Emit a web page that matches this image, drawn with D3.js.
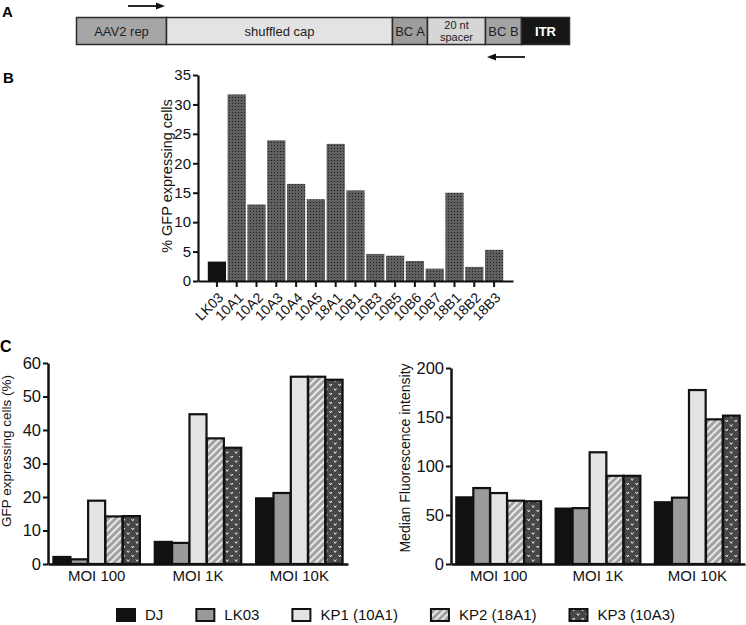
<!DOCTYPE html>
<html>
<head>
<meta charset="utf-8">
<script src="https://cdn.jsdelivr.net/npm/d3@7"></script>
<style>
  html, body { margin: 0; padding: 0; background: #fff; }
  svg { display: block; font-family: "Liberation Sans", Arial, sans-serif; }
</style>
</head>
<body>
<svg id="chart" width="746" height="625"></svg>
<script>
// ---------- DATA ----------
const constructLabels = ["AAV2 rep", "shuffled cap", "BC A", "20 nt|spacer", "BC B", "ITR"];
const constructLengths = [90, 226, 35, 58, 36, 48];

const screenCategories = ["LK03", "10A1", "10A2", "10A3", "10A4", "10A5", "18A1", "10B1", "10B3", "10B5", "10B6", "10B7", "18B1", "18B2", "18B3"];
const screenValues = [3.3, 31.7, 13.0, 23.9, 16.5, 13.9, 23.3, 15.4, 4.6, 4.3, 3.4, 2.1, 15.0, 2.4, 5.3];
const screenTicks = [0, 5, 10, 15, 20, 25, 30, 35];

const moiGroups = ["MOI 100", "MOI 1K", "MOI 10K"];
const seriesNames = ["DJ", "LK03", "KP1 (10A1)", "KP2 (18A1)", "KP3 (10A3)"];

const gfpDJ   = [2.1, 6.6, 19.6];
const gfpLK03 = [1.4, 6.3, 21.2];
const gfpKP1  = [18.9, 44.7, 55.9];
const gfpKP2  = [14.2, 37.5, 55.9];
const gfpKP3  = [14.3, 34.7, 55.0];
const gfpTicks = [0, 10, 20, 30, 40, 50, 60];

const mfiDJ   = [68, 56.5, 63];
const mfiLK03 = [77.5, 57, 67.7];
const mfiKP1  = [72.4, 114, 177.5];
const mfiKP2  = [64.6, 90, 147.6];
const mfiKP3  = [64, 90, 151.4];
const mfiTicks = [0, 50, 100, 150, 200];

// ---------- SETUP ----------
const svg = d3.select("#chart");
const defs = svg.append("defs");

// stipple for panel B
const pStip = defs.append("pattern").attr("id", "stipple").attr("patternUnits", "userSpaceOnUse")
  .attr("width", 3).attr("height", 3);
pStip.append("rect").attr("width", 3).attr("height", 3).attr("fill", "#5f5f5f");
pStip.append("rect").attr("x", 1).attr("y", 1).attr("width", 1).attr("height", 1).attr("fill", "#1e1e1e");

// hatch for KP2
const pHatch = defs.append("pattern").attr("id", "hatch").attr("patternUnits", "userSpaceOnUse")
  .attr("width", 5).attr("height", 5).attr("patternTransform", "rotate(45)");
pHatch.append("rect").attr("width", 5).attr("height", 5).attr("fill", "#a2a2a2");
pHatch.append("rect").attr("x", 0).attr("y", 0).attr("width", 1.8).attr("height", 5).attr("fill", "#f2f2f2");

// v-marks for KP3
const pV = defs.append("pattern").attr("id", "vmark").attr("patternUnits", "userSpaceOnUse")
  .attr("width", 9).attr("height", 9);
pV.append("rect").attr("width", 9).attr("height", 9).attr("fill", "#474747");
pV.append("path").attr("d", "M1,1.5 L2.2,3.4 L3.4,1.5 M5.5,6 L6.7,7.9 L7.9,6")
  .attr("stroke", "#ededed").attr("stroke-width", 1).attr("fill", "none");

const seriesFills = ["#111111", "#9a9a9a", "#e4e4e4", "url(#hatch)", "url(#vmark)"];

// ---------- PANEL A ----------
svg.append("text").attr("x", 2).attr("y", 17).attr("font-size", 15).attr("font-weight", "bold").text("A");
const xA = d3.scaleLinear().domain([0, d3.sum(constructLengths)]).range([76.5, 569.5]);
const segStarts = constructLengths.map((d, i) => d3.sum(constructLengths.slice(0, i)));
const segFills = ["#a6a6a6", "#e3e3e3", "#9d9d9d", "#d6d6d6", "#a3a3a3", "#161616"];
const gA = svg.append("g");
constructLabels.forEach((lab, i) => {
  const x0 = xA(segStarts[i]), x1 = xA(segStarts[i] + constructLengths[i]);
  gA.append("rect").attr("x", x0).attr("y", 17.5).attr("width", x1 - x0).attr("height", 27)
    .attr("fill", segFills[i]).attr("stroke", "#2b2b2b").attr("stroke-width", 1.5);
  const cx = (x0 + x1) / 2;
  const parts = lab.split("|");
  if (parts.length === 2) {
    gA.append("text").attr("x", cx).attr("y", 29).attr("text-anchor", "middle").attr("font-size", 11).attr("fill", "#222").text(parts[0]);
    gA.append("text").attr("x", cx).attr("y", 40.5).attr("text-anchor", "middle").attr("font-size", 11).attr("fill", "#222").text(parts[1]);
  } else if (lab === "ITR") {
    gA.append("text").attr("x", cx).attr("y", 35.5).attr("text-anchor", "middle").attr("font-size", 13).attr("font-weight", "bold").attr("fill", "#fff").text(lab);
  } else {
    gA.append("text").attr("x", cx).attr("y", 35.5).attr("text-anchor", "middle").attr("font-size", 13).attr("fill", "#222").text(lab);
  }
});
// arrows
function arrow(x0, x1, y) {
  const dir = x1 > x0 ? 1 : -1;
  gA.append("line").attr("x1", x0).attr("x2", x1 - dir * 6).attr("y1", y).attr("y2", y).attr("stroke", "#111").attr("stroke-width", 1.8);
  gA.append("path").attr("d", `M${x1},${y} L${x1 - dir * 9},${y - 3.5} L${x1 - dir * 9},${y + 3.5} Z`).attr("fill", "#111");
}
arrow(128, 165, 6);
arrow(525, 487, 57);

// ---------- PANEL B ----------
svg.append("text").attr("x", 3).attr("y", 83).attr("font-size", 15).attr("font-weight", "bold").text("B");
const xB = d3.scaleBand().domain(screenCategories).range([198, 513]).paddingInner(0.08).paddingOuter(0.495);
const yB = d3.scaleLinear().domain([0, 35]).range([281, 75]);
const gB = svg.append("g");
gB.selectAll("rect.bar").data(screenValues).join("rect").attr("class", "bar")
  .attr("x", (d, i) => xB(screenCategories[i])).attr("width", xB.bandwidth())
  .attr("y", d => yB(d)).attr("height", d => yB(0) - yB(d))
  .attr("fill", (d, i) => i === 0 ? "#111" : "url(#stipple)");
const yAxB = gB.append("g").attr("transform", "translate(198,0)")
  .call(d3.axisLeft(yB).tickValues(screenTicks).tickSize(5).tickSizeOuter(0).tickPadding(2));
const xAxB = gB.append("g").attr("transform", "translate(0,281)")
  .call(d3.axisBottom(xB).tickSize(6).tickSizeOuter(0).tickPadding(2));
xAxB.selectAll(".tick text").attr("text-anchor", "end").attr("y", 0).attr("dy", "0.35em")
  .attr("transform", "translate(4,14) rotate(-45)").attr("font-size", 14);
yAxB.selectAll(".tick text").attr("font-size", 15);
[yAxB, xAxB].forEach(a => {
  a.select(".domain").attr("stroke-width", 2.2).attr("stroke", "#111");
  a.selectAll(".tick line").attr("stroke-width", 2).attr("stroke", "#111");
  a.selectAll(".tick text").attr("fill", "#111").attr("font-family", "Liberation Sans, Arial, sans-serif");
});
gB.append("text").attr("transform", "translate(172,176) rotate(-90)").attr("text-anchor", "middle")
  .attr("font-size", 14.5).attr("fill", "#111").text("% GFP expressing cells");

// ---------- PANEL C ----------
svg.append("text").attr("x", 0).attr("y", 352).attr("font-size", 16).attr("font-weight", "bold").text("C");

function groupedPanel(opts) {
  const g = svg.append("g");
  const x0 = d3.scaleBand().domain(moiGroups).range(opts.xRange).paddingInner(0.14).paddingOuter(0.05);
  const x1 = d3.scaleBand().domain(seriesNames).range([0, x0.bandwidth()]).padding(0.02);
  const y = d3.scaleLinear().domain(opts.yDomain).range([564, opts.yTop]);
  opts.series.forEach((vals, si) => {
    g.selectAll(null).data(vals).join("rect")
      .attr("x", (d, gi) => x0(moiGroups[gi]) + x1(seriesNames[si]))
      .attr("width", x1.bandwidth())
      .attr("y", d => y(d)).attr("height", d => y(0) - y(d))
      .attr("fill", seriesFills[si]).attr("stroke", "#111").attr("stroke-width", 2.2);
  });
  const ya = g.append("g").attr("transform", `translate(${opts.xRange[0]},0)`)
    .call(d3.axisLeft(y).tickValues(opts.ticks).tickSize(5).tickSizeOuter(0).tickPadding(2));
  const xa = g.append("g").attr("transform", "translate(0,564)")
    .call(d3.axisBottom(x0).tickSize(0).tickSizeOuter(0).tickPadding(6));
  [ya, xa].forEach(a => {
    a.select(".domain").attr("stroke-width", 2.5).attr("stroke", "#111");
    a.selectAll(".tick line").attr("stroke-width", 2).attr("stroke", "#111");
    a.selectAll(".tick text").attr("fill", "#111").attr("font-family", "Liberation Sans, Arial, sans-serif");
  });
  ya.selectAll(".tick text").attr("font-size", 16.5);
  xa.selectAll(".tick text").attr("font-size", 15);
  g.append("text").attr("transform", `translate(${opts.labelX},${opts.labelY}) rotate(-90)`)
    .attr("text-anchor", "middle").attr("font-size", opts.labelSize).attr("fill", "#111").text(opts.label);
}

groupedPanel({
  xRange: [48, 348], yDomain: [0, 60], yTop: 363, ticks: gfpTicks,
  series: [gfpDJ, gfpLK03, gfpKP1, gfpKP2, gfpKP3],
  label: "GFP expressing cells (%)", labelX: 10.5, labelY: 451, labelSize: 13.5
});
groupedPanel({
  xRange: [451, 745], yDomain: [0, 200], yTop: 368, ticks: mfiTicks,
  series: [mfiDJ, mfiLK03, mfiKP1, mfiKP2, mfiKP3],
  label: "Median Fluorescence intensity", labelX: 410, labelY: 458, labelSize: 14
});

// ---------- LEGEND ----------
const gL = svg.append("g");
let lx = 117;
seriesNames.forEach((name, i) => {
  gL.append("rect").attr("x", lx).attr("y", 609).attr("width", 18).attr("height", 12)
    .attr("fill", seriesFills[i]).attr("stroke", "#111").attr("stroke-width", 2);
  const t = gL.append("text").attr("x", lx + 28).attr("y", 620).attr("font-size", 15).attr("fill", "#111").text(name);
  lx += 28 + t.node().getComputedTextLength() + 33;
});
</script>
</body>
</html>
